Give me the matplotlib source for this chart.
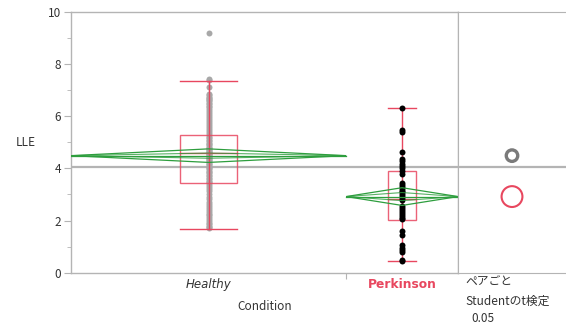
import matplotlib
matplotlib.use("Agg")
import matplotlib.pyplot as plt
import numpy as np
from matplotlib.patches import Circle, Polygon, Rectangle

plt.rcParams['font.family'] = ['Noto Sans CJK JP', 'DejaVu Sans']

# data
groups = ["Healthy", "Perkinson"]
healthy = [9.19,
           7.42, 7.38, 7.12,
           6.85, 6.80, 6.75, 6.70, 6.66, 6.62, 6.58, 6.52, 6.46, 6.40, 6.34, 6.28, 6.20,
           6.12, 6.05, 5.98, 5.90, 5.82, 5.74, 5.66, 5.58, 5.50, 5.42, 5.35, 5.28,
           5.22, 5.16, 5.10, 5.04, 4.98, 4.93, 4.88, 4.83, 4.78, 4.74, 4.70, 4.66, 4.62,
           4.60, 4.58, 4.55, 4.52, 4.48, 4.44, 4.40, 4.36, 4.32, 4.27, 4.22, 4.17, 4.12,
           4.07, 4.02, 3.97, 3.92, 3.87, 3.82, 3.76, 3.70, 3.64, 3.58, 3.52, 3.46, 3.44,
           3.38, 3.30, 3.22, 3.12, 3.02, 2.92, 2.82, 2.72, 2.64, 2.56, 2.48, 2.40, 2.32,
           2.26, 2.20, 2.12, 2.05, 1.98, 1.92, 1.86, 1.80, 1.74, 1.70]
perkinson = [6.33, 5.48, 5.38, 4.62, 4.38, 4.28, 4.18, 4.10, 4.02, 3.92, 3.80,
             3.45, 3.38, 3.28, 3.22, 3.15, 3.08, 3.00, 2.95, 2.88, 2.80, 2.55, 2.48,
             2.40, 2.32, 2.25, 2.18, 2.10, 2.05, 1.60, 1.45, 1.05, 0.95, 0.88, 0.78,
             0.50, 0.45]
means = [4.49, 2.92]
ci_half = [0.26, 0.34]
overlap_half = [0.10, 0.155]
q1 = [3.44, 2.02]
median = [4.60, 2.81]
q3 = [5.28, 3.90]
whisk_lo = [1.69, 0.45]
whisk_hi = [7.37, 6.33]
grand_mean = 4.04
circle_r = [0.22, 0.40]

# styles
GRID = "#b4b4b4"
TXT = "#333333"
RED = "#e8475f"
GREEN = "#2e9e3e"
point_colors = ["#a8a8a8", "#000000"]
point_z = [3, 4.5]
circle_colors = ["#7a7a7a", RED]
circle_lw = [2.4, 1.5]
box_frac = [0.205, 0.245]

W, H, DPI = 566, 326, 100
fig = plt.figure(figsize=(W / DPI, H / DPI), dpi=DPI)
x0, x1, x2 = 71, 458, 566
ytop, ybot = 12, 272.7
ax = fig.add_axes([x0 / W, 1 - ybot / H, (x1 - x0) / W, (ybot - ytop) / H])
axc = fig.add_axes([x1 / W, 1 - ybot / H, (x2 - x1) / W, (ybot - ytop) / H])

data = [healthy, perkinson]
counts = np.array([len(d) for d in data])
edges = np.concatenate([[0], np.cumsum(counts)])
centers = (edges[:-1] + edges[1:]) / 2

ax.axhline(grand_mean, color=GRID, lw=1.6, zorder=1)
axc.axhline(grand_mean, color=GRID, lw=1.6, zorder=1)

for i in range(len(groups)):
    c = centers[i]
    lft, rgt = edges[i], edges[i + 1]
    m = means[i]
    # points
    ax.plot(np.full(len(data[i]), c), data[i], 'o', color=point_colors[i],
            ms=4.3, mec='none', zorder=point_z[i])
    # box plot
    bw = box_frac[i] * counts[i]
    ax.add_patch(Rectangle((c - bw / 2, q1[i]), bw, q3[i] - q1[i], fill=False,
                           ec=RED, lw=1.0, alpha=0.85, zorder=4))
    ax.plot([c - bw / 2, c + bw / 2], [median[i]] * 2, color=RED, lw=1.0, zorder=4)
    ax.plot([c, c], [whisk_lo[i], whisk_hi[i]], color=RED, lw=1.0, zorder=4)
    for w in (whisk_lo[i], whisk_hi[i]):
        ax.plot([c - bw / 2, c + bw / 2], [w, w], color=RED, lw=1.0, zorder=4)
    # means diamond
    ax.add_patch(Polygon([(lft, m), (c, m + ci_half[i]), (rgt, m), (c, m - ci_half[i])],
                         closed=True, fill=False, ec=GREEN, lw=0.9, zorder=5))
    ax.add_patch(Polygon([(lft, m), (c, m + overlap_half[i]), (rgt, m), (c, m - overlap_half[i])],
                         closed=True, fill=False, ec=GREEN, lw=0.8, alpha=0.8, zorder=5))
    ax.plot([lft, rgt], [m, m], color=GREEN, lw=0.9, zorder=5)

ax.set_xlim(edges[0], edges[-1])
ax.set_ylim(0, 10)
ax.set_yticks(np.arange(0, 11, 2))
ax.set_yticks(np.arange(1, 10, 2), minor=True)
ax.set_xticks(edges[1:-1])
ax.set_xticklabels([])
ax.set_xticks(centers, minor=True)
ax.set_xticklabels(groups, minor=True)
ax.tick_params(axis='x', which='major', length=4, color=GRID)
ax.tick_params(axis='x', which='minor', length=0, pad=4, labelsize=8.5, labelcolor=TXT)
ax.tick_params(axis='y', which='major', length=5, color=GRID, labelsize=8.5, labelcolor=TXT, pad=2)
ax.tick_params(axis='y', which='minor', length=3, color=GRID)
lbls = ax.get_xticklabels(minor=True)
lbls[0].set_fontstyle('italic')
lbls[0].set_family(['DejaVu Sans'])
lbls[1].set_color(RED)
lbls[1].set_fontweight('bold')
lbls[1].set_family(['DejaVu Sans'])
lbls[1].set_fontsize(8.8)
for s in ax.spines.values():
    s.set_color(GRID)
    s.set_linewidth(1.0)

ax.set_ylabel("LLE", rotation=0, fontsize=8.5, color=TXT, ha='center', va='center')
ax.yaxis.set_label_coords(-(x0 - 26) / (x1 - x0), 0.5)
ax.set_xlabel("Condition", fontsize=8.5, color=TXT, labelpad=6)

# comparison circles panel, x scaled so one unit matches one unit of y in pixels
cw = (x2 - x1) / ((ybot - ytop) / 10)
axc.set_xlim(0, cw)
axc.set_ylim(0, 10)
for i in range(len(groups)):
    axc.add_patch(Circle((cw / 2, means[i]), circle_r[i], fill=False,
                         ec=circle_colors[i], lw=circle_lw[i], zorder=4))
axc.set_xticks([])
axc.set_yticks([])
for k, s in axc.spines.items():
    s.set_color(GRID)
    s.set_visible(k != 'right')

axc.text(0.07, -0.035, "ペアごと", transform=axc.transAxes, fontsize=8.5,
         color=TXT, va='center', ha='left')
axc.text(0.07, -0.108, "Studentのt検定", transform=axc.transAxes, fontsize=8.5,
         color=TXT, va='center', ha='left')
axc.text(0.12, -0.177, "0.05", transform=axc.transAxes, fontsize=8.5,
         color=TXT, va='center', ha='left')

fig.savefig("out.png", dpi=DPI)
